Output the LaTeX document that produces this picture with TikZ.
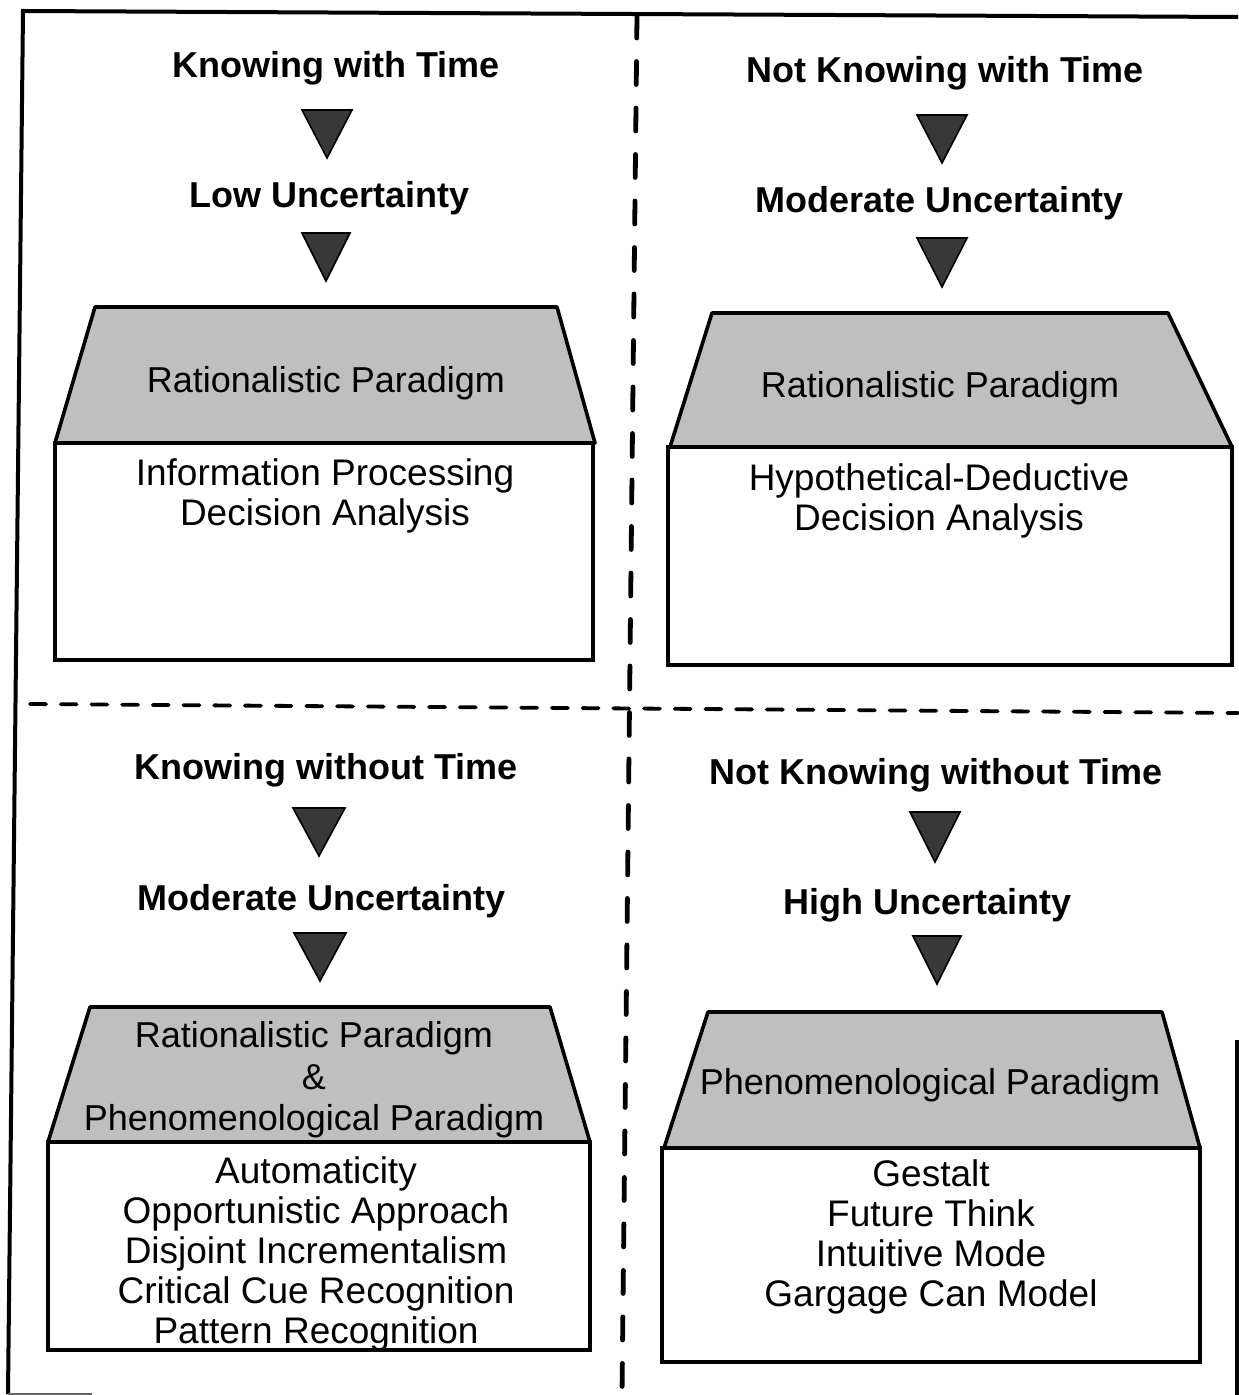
\documentclass[tikz,border=0pt]{standalone}
\usepackage{fontspec}
\setmainfont{Liberation Sans}
\begin{document}
\begin{tikzpicture}[x=0.5pt,y=-0.5pt]
\tikzset{
 frameline/.style={line width=2pt},
 vdashline/.style={line width=2.4pt, line cap=round, dash pattern=on 11.5pt off 11.75pt},
 hdashline/.style={line width=1.9pt, line cap=round, dash pattern=on 8pt off 7.35pt},
 trap/.style={fill=black!25, draw=black, line width=1.8pt, line join=round},
 bodybox/.style={draw=black, line width=2pt, fill=white},
 tri/.style={fill=black!78, draw=black, line width=0.8pt},
 titletext/.style={font=\fontsize{18}{21}\selectfont\bfseries, inner sep=0pt},
 graytext/.style={font=\fontsize{18}{20.75}\selectfont, align=center, inner sep=0pt},
 bodytext/.style={font=\fontsize{18.5}{20}\selectfont, align=center, inner sep=0pt},
}
\useasboundingbox (0,0) rectangle (1238,1395);
\fill[white] (0,0) rectangle (1238,1395);

% outer frame
\coordinate (ftl) at (23,11);
\coordinate (ftr) at (1238,17);
\coordinate (fbl) at (8,1394);
\coordinate (fbs) at (92,1394);
\coordinate (frt) at (1237,1040);
\coordinate (frb) at (1237,1395);
\draw[frameline] (ftr) -- (ftl) -- (fbl);
\draw[line width=1pt, black!60] (fbl) -- (fbs);
\draw[frameline] (frt) -- (frb);

% dashed dividers
\coordinate (vt) at (637,15);
\coordinate (vb) at (622,1395);
\coordinate (hl) at (30,704);
\coordinate (hr) at (1238,713);
\draw[vdashline] (vt) -- (vb);
\draw[hdashline] (hl) -- (hr);

% ---------- Q1 ----------
\node[titletext] (q1a) at (336,68) {Knowing with Time};
\filldraw[tri] (302,110) -- (352,110) -- (327,158) -- cycle;
\node[titletext] (q1b) at (330,198) {Low Uncertainty};
\filldraw[tri] (302,233) -- (350,233) -- (326,281) -- cycle;
\path[trap] (95,307) -- (557,307) -- (595,443) -- (55,443) -- cycle;
\path[bodybox] (55,443) rectangle (593,660);
\node[graytext] (q1g) at (326,383) {Rationalistic Paradigm};
\node[bodytext] (q1t) at (325,496) {Information Processing\\Decision Analysis};

% ---------- Q2 ----------
\node[titletext] (q2a) at (945,73) {Not Knowing with Time};
\filldraw[tri] (917,115) -- (967,115) -- (942,163) -- cycle;
\node[titletext] (q2b) at (940,203) {Moderate Uncertainty};
\filldraw[tri] (917,238) -- (967,238) -- (942,287) -- cycle;
\path[trap] (712,313) -- (1168,313) -- (1232,447) -- (670,447) -- cycle;
\path[bodybox] (668,447) rectangle (1232,665);
\node[graytext] (q2g) at (940,388) {Rationalistic Paradigm};
\node[bodytext] (q2t) at (939,501) {Hypothetical-Deductive\\Decision Analysis};

% ---------- Q3 ----------
\node[titletext] (q3a) at (326,770) {Knowing without Time};
\filldraw[tri] (293,808) -- (345,808) -- (319,856) -- cycle;
\node[titletext] (q3b) at (322,901) {Moderate Uncertainty};
\filldraw[tri] (294,933) -- (346,933) -- (320,981) -- cycle;
\path[trap] (90,1007) -- (550,1007) -- (590,1142) -- (48,1142) -- cycle;
\path[bodybox] (48,1142) rectangle (590,1350);
\node[graytext] (q3g) at (314,1080) {Rationalistic Paradigm\\\&\\Phenomenological Paradigm};
\node[bodytext] (q3t) at (316,1254) {Automaticity\\Opportunistic Approach\\Disjoint Incrementalism\\Critical Cue Recognition\\Pattern Recognition};

% ---------- Q4 ----------
\node[titletext] (q4a) at (936,775) {Not Knowing without Time};
\filldraw[tri] (910,812) -- (960,812) -- (935,862) -- cycle;
\node[titletext] (q4b) at (928,905) {High Uncertainty};
\filldraw[tri] (913,936) -- (961,936) -- (937,984) -- cycle;
\path[trap] (708,1012) -- (1162,1012) -- (1200,1148) -- (664,1148) -- cycle;
\path[bodybox] (662,1148) rectangle (1200,1362);
\node[graytext] (q4g) at (930,1085) {Phenomenological Paradigm};
\node[bodytext] (q4t) at (931,1237) {Gestalt\\Future Think\\Intuitive Mode\\Gargage Can Model};
\end{tikzpicture}
\end{document}
